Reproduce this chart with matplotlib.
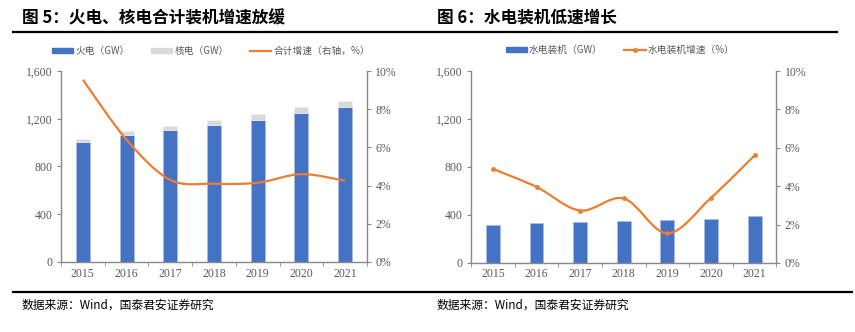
import numpy as np
import matplotlib
matplotlib.use("Agg")
import matplotlib.pyplot as plt
from matplotlib.path import Path
from matplotlib.patches import PathPatch
from matplotlib.lines import Line2D
from matplotlib.ticker import FuncFormatter, PercentFormatter

plt.rcParams['font.family'] = ['Noto Sans CJK SC', 'DejaVu Sans']

years = ['2015', '2016', '2017', '2018', '2019', '2020', '2021']

# chart 5
thermal = [1006, 1060, 1106, 1144, 1191, 1247, 1297]  # 火电 GW
nuclear = [27, 34, 36, 45, 49, 50, 53]  # 核电 GW
total_growth = [9.55, 6.4, 4.3, 4.1, 4.15, 4.6, 4.25]  # 合计增速 %

# chart 6
hydro = [320, 332, 341, 352, 357, 368, 391]  # 水电装机 GW
hydro_growth = [4.9, 3.96, 2.73, 3.36, 1.54, 3.39, 5.6]  # 水电装机增速 %

BLUE = '#4472C4'
GREY = '#D9D9D9'
ORANGE = '#ED7D31'
AXC = '#888888'
TXC = '#595959'
SERIF = ['Liberation Serif', 'Noto Sans CJK SC']


def smooth_path(x, y):
    # Excel-style smoothed line, drawn as cubic bezier segments
    x = np.asarray(x, float)
    y = np.asarray(y, float)
    pts = np.column_stack([x, y])
    n = len(pts)
    verts = [pts[0]]
    codes = [Path.MOVETO]
    for i in range(n - 1):
        p0 = pts[i - 1] if i > 0 else pts[i]
        p1 = pts[i]
        p2 = pts[i + 1]
        p3 = pts[i + 2] if i + 2 < n else pts[i + 1]
        c1 = p1 + (p2 - p0) / 6.0
        c2 = p2 - (p3 - p1) / 6.0
        verts += [c1, c2, p2]
        codes += [Path.CURVE4] * 3
    return Path(verts, codes)


def style_axes(ax, ax2):
    for a in (ax, ax2):
        for s in a.spines.values():
            s.set_visible(False)
    ax.spines['left'].set_visible(True)
    ax.spines['bottom'].set_visible(True)
    ax2.spines['right'].set_visible(True)
    for s in (ax.spines['left'], ax.spines['bottom'], ax2.spines['right']):
        s.set_color(AXC)
        s.set_linewidth(1.0)
    ax.set_xlim(-0.5, 6.5)
    ax.set_ylim(0, 1600)
    ax.set_yticks([0, 400, 800, 1200, 1600])
    ax.yaxis.set_major_formatter(FuncFormatter(lambda v, p: f'{int(v):,}'))
    ax2.set_ylim(0, 10)
    ax2.set_yticks([0, 2, 4, 6, 8, 10])
    ax2.yaxis.set_major_formatter(PercentFormatter(decimals=0))
    ax.set_xticks(range(7))
    ax.set_xticklabels(years)
    ax.set_xticks(np.arange(-0.5, 7, 1), minor=True)
    ax.tick_params(axis='x', which='major', length=0, pad=4)
    ax.tick_params(axis='x', which='minor', length=3, color=AXC, direction='out')
    ax.tick_params(axis='y', length=3, color=AXC, direction='out', pad=3)
    ax2.tick_params(axis='y', length=3, color=AXC, direction='out', pad=3)
    for lab in ax.get_xticklabels() + ax.get_yticklabels() + ax2.get_yticklabels():
        lab.set_family(SERIF)
        lab.set_fontsize(8.5)
        lab.set_color(TXC)


fig = plt.figure(figsize=(8.55, 3.32), dpi=100)
x = np.arange(len(years))
leg_prop = {'family': ['Noto Sans CJK SC'], 'size': 7}

# ---- 图 5 ----
ax = fig.add_axes([0.0713, 0.211, 0.358, 0.575])
ax2 = ax.twinx()
ax.bar(x, thermal, width=0.32, color=BLUE, edgecolor='#A9BDE6', linewidth=0.5)
ax.bar(x, nuclear, width=0.32, bottom=thermal, color=GREY, edgecolor='#EEEEEE', linewidth=0.5)
ax2.add_patch(PathPatch(smooth_path(x, total_growth), facecolor='none', edgecolor=ORANGE, lw=1.6))
style_axes(ax, ax2)
h5 = [plt.Rectangle((0, 0), 1, 1, color=BLUE), plt.Rectangle((0, 0), 1, 1, color=GREY),
      Line2D([], [], color=ORANGE, lw=1.6)]
fig.legend(h5, ['火电（GW）', '核电（GW）', '合计增速（右轴，%）'], loc='center',
           bbox_to_anchor=(211 / 855, 1 - 51 / 332), ncol=3, frameon=False,
           prop=leg_prop, handlelength=2.2, handleheight=0.45,
           columnspacing=2.2, handletextpad=0.2, labelcolor=TXC)

# ---- 图 6 ----
bx = fig.add_axes([0.551, 0.208, 0.357, 0.578])
bx2 = bx.twinx()
bx.bar(x, hydro, width=0.32, color=BLUE, edgecolor='#A9BDE6', linewidth=0.5)
bx2.add_patch(PathPatch(smooth_path(x, hydro_growth), facecolor='none', edgecolor=ORANGE, lw=1.6))
bx2.plot(x, hydro_growth, 'o', color=ORANGE, markersize=2.5)
style_axes(bx, bx2)
h6 = [plt.Rectangle((0, 0), 1, 1, color=BLUE),
      Line2D([], [], color=ORANGE, lw=1.6, marker='o', markersize=2.5)]
fig.legend(h6, ['水电装机（GW）', '水电装机增速（%）'], loc='center',
           bbox_to_anchor=(620 / 855, 1 - 50 / 332), ncol=2, frameon=False,
           prop=leg_prop, handlelength=2.2, handleheight=0.45,
           columnspacing=2.2, handletextpad=0.2, labelcolor=TXC)

# titles, rules, sources
fig.text(22 / 855, 1 - 18 / 332, '图 5：火电、核电合计装机增速放缓', fontsize=12, fontweight='bold',
         va='center', ha='left')
fig.text(437 / 855, 1 - 18 / 332, '图 6：水电装机低速增长', fontsize=12, fontweight='bold',
         va='center', ha='left')
fig.add_artist(Line2D([13 / 855, 837 / 855], [1 - 32 / 332] * 2, color='black', lw=1.6))
fig.add_artist(Line2D([13 / 855, 852 / 855], [1 - 292 / 332] * 2, color='black', lw=1.6))
fig.text(22 / 855, 1 - 305 / 332, '数据来源：Wind，国泰君安证券研究', fontsize=8.5, va='center', ha='left')
fig.text(437 / 855, 1 - 305 / 332, '数据来源：Wind，国泰君安证券研究', fontsize=8.5, va='center', ha='left')

fig.savefig('out.png', dpi=100)
